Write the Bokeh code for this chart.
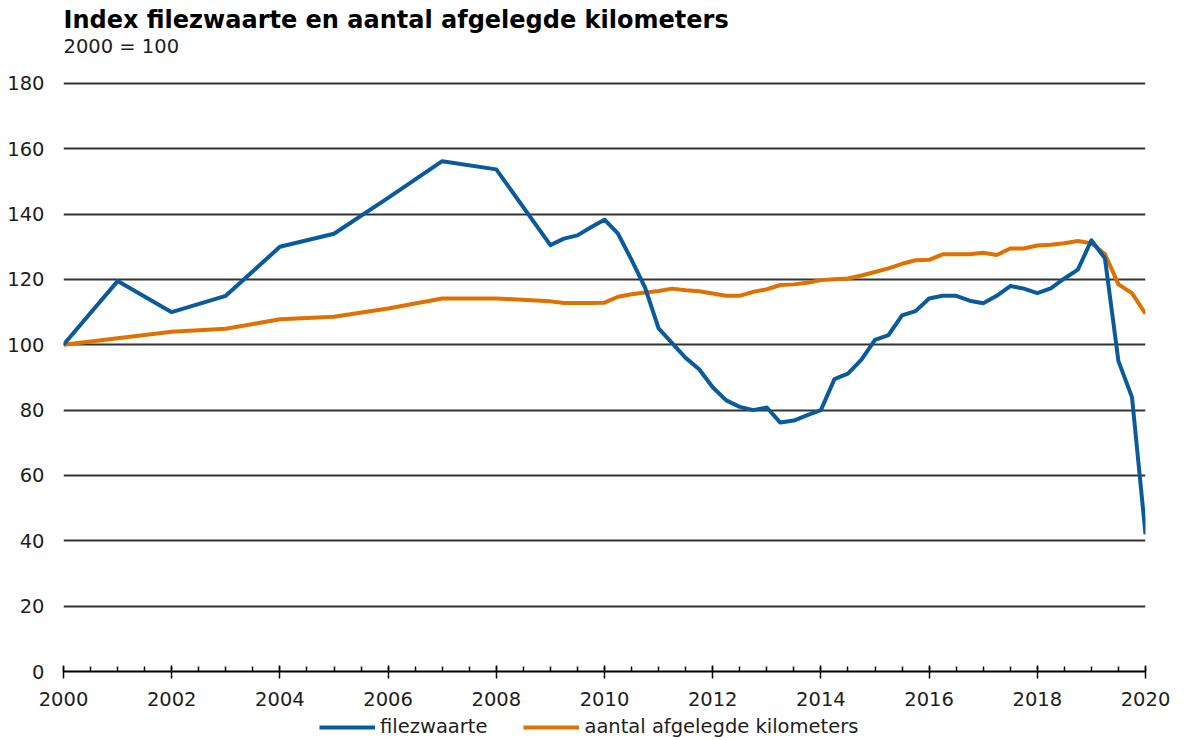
from bokeh.plotting import figure
from bokeh.layouts import column
from bokeh.models import Range1d, FixedTicker, Title, Legend, LegendItem
from bokeh.embed import file_html
from bokeh.resources import INLINE

# ---- data -------------------------------------------------------------
titel = "Index filezwaarte en aantal afgelegde kilometers"
ondertitel = "2000 = 100"
reeks_namen = ["filezwaarte", "aantal afgelegde kilometers"]

# annual observations 2000-2008
jaren = [2000, 2001, 2002, 2003, 2004, 2005, 2006, 2007, 2008]
file_jaar = [100.0, 119.5, 110.0, 115.0, 130.0, 134.0, 145.0, 156.2, 153.7]
km_jaar = [100.0, 102.0, 104.0, 104.9, 107.8, 108.6, 111.1, 114.2, 114.2]

# quarterly observations 2009 Q1 - 2020 Q1
kwartalen = [f"{j}K{k}" for j in range(2009, 2020) for k in range(1, 5)] + ["2020K1"]
file_kw = [130.5, 132.5, 133.5, 136.0, 138.3, 134.0, 126.0, 117.5,
           105.0, 100.5, 96.0, 92.5, 87.0, 83.0, 81.0, 80.0,
           80.8, 76.2, 76.8, 78.5, 80.0, 89.5, 91.2, 95.5,
           101.5, 103.0, 109.0, 110.3, 114.2, 115.0, 115.0, 113.5,
           112.7, 115.0, 118.0, 117.2, 115.8, 117.3, 120.3, 123.0,
           132.0, 126.5, 95.0, 84.0, 42.0]
km_kw = [113.3, 112.8, 112.8, 112.8, 112.9, 114.7, 115.5, 116.0,
         116.5, 117.2, 116.7, 116.4, 115.7, 115.0, 115.0, 116.2,
         117.0, 118.3, 118.5, 119.0, 119.8, 120.1, 120.3, 121.2,
         122.3, 123.4, 124.8, 125.9, 126.0, 127.7, 127.7, 127.7,
         128.2, 127.5, 129.5, 129.5, 130.4, 130.6, 131.1, 131.8,
         131.1, 127.8, 118.5, 115.8, 109.5]

x_ticks = list(range(2000, 2021, 2))
x_minor = [2000 + 0.5 * i for i in range(41)]
y_ticks = list(range(0, 181, 20))


def kw_naar_x(label):
    j, k = label.split("K")
    return int(j) + (int(k) - 1) / 4


x_all = jaren + [kw_naar_x(l) for l in kwartalen]
file_all = file_jaar + file_kw
km_all = km_jaar + km_kw

# ---- styling ---------------------------------------------------------
BLAUW = "#0a5a9c"
ORANJE = "#e07000"
TEKST = "#1e1e1e"
LIJN = "#333333"
FONT = "DejaVu Sans"
FS = "19.5px"

p = figure(
    frame_width=1082, frame_height=590,
    x_range=Range1d(2000, 2020), y_range=Range1d(0, 180.6),
    output_backend="svg", toolbar_location=None,
    min_border_left=63, min_border_top=81, min_border_right=37, min_border_bottom=43,
)
p.outline_line_color = None
p.background_fill_color = "white"
p.border_fill_color = "white"

r_km = p.line(x_all, km_all, line_color=ORANJE, line_width=4, line_join="round")
r_file = p.line(x_all, file_all, line_color=BLAUW, line_width=4, line_join="round")

# x axis
xa = p.xaxis[0]
xa.ticker = FixedTicker(ticks=x_ticks, minor_ticks=x_minor)
xa.axis_line_color = "black"
xa.axis_line_width = 2
xa.major_tick_line_color = "black"
xa.major_tick_line_width = 1.5
xa.major_tick_in = 6
xa.major_tick_out = 7
xa.minor_tick_line_color = "black"
xa.minor_tick_line_width = 1.5
xa.minor_tick_in = 5
xa.minor_tick_out = 0
xa.major_label_text_font = FONT
xa.major_label_text_font_size = FS
xa.major_label_text_color = TEKST
xa.major_label_standoff = 13

# y axis
ya = p.yaxis[0]
ya.ticker = FixedTicker(ticks=y_ticks)
ya.axis_line_color = None
ya.major_tick_line_color = None
ya.minor_tick_line_color = None
ya.major_tick_in = 0
ya.major_tick_out = 0
ya.major_label_text_font = FONT
ya.major_label_text_font_size = FS
ya.major_label_text_color = TEKST
ya.major_label_standoff = 19

p.xgrid.grid_line_color = None
p.ygrid.grid_line_color = LIJN
p.ygrid.grid_line_width = 2

# titles (subtitle nearest to the frame, main title above it)
p.add_layout(Title(text=ondertitel, align="left", standoff=48,
                   text_font=FONT, text_font_size=FS, text_font_style="normal",
                   text_color=TEKST), "above")
p.add_layout(Title(text=titel, align="left", standoff=-50,
                   text_font=FONT, text_font_size="24px", text_font_style="bold",
                   text_color="black"), "above")

# ---- legend strip below the chart -------------------------------------
# the key renderers carry the real series, but this strip's ranges keep
# them out of view, so only the legend swatches are drawn
lg = figure(
    width=1184, height=24, x_range=Range1d(0, 1), y_range=Range1d(0, 1),
    output_backend="svg", toolbar_location=None,
    x_axis_location=None, y_axis_location=None, min_border=0,
)
lg.outline_line_color = None
lg.grid.grid_line_color = None
lg.background_fill_color = "white"
lg.border_fill_color = "white"
k_file = lg.line(x_all, file_all, line_color=BLAUW, line_width=4)
k_km = lg.line(x_all, km_all, line_color=ORANJE, line_width=4)

legend = Legend(
    items=[LegendItem(label=reeks_namen[0], renderers=[k_file]),
           LegendItem(label=reeks_namen[1], renderers=[k_km])],
    orientation="horizontal", location=(256, 0),
    glyph_width=56, glyph_height=18, label_height=18, label_standoff=5, spacing=36,
    padding=0, margin=0, border_line_color=None, background_fill_alpha=0,
    label_text_font=FONT, label_text_font_size=FS, label_text_color=TEKST,
)
lg.add_layout(legend)

open("out.html", "w").write(file_html(column(p, lg, spacing=0), INLINE))
